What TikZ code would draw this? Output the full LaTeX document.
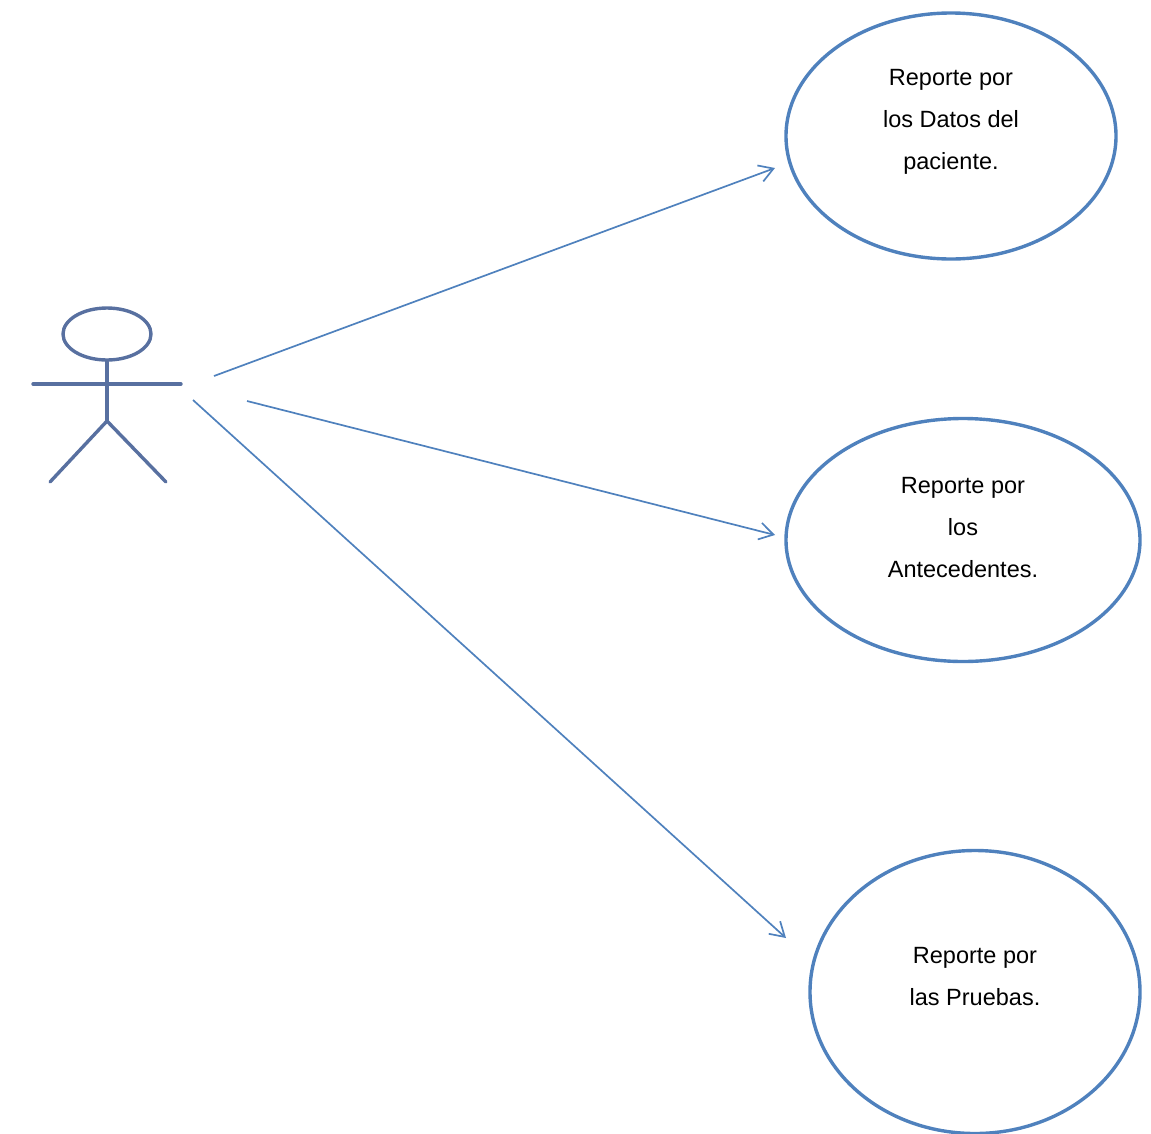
\documentclass[tikz,border=0pt]{standalone}
\usepackage{fontspec}
\setmainfont{Liberation Sans}
\usetikzlibrary{arrows.meta,shapes.geometric}
\definecolor{ub}{RGB}{79,129,189}
\definecolor{actor}{RGB}{88,112,160}
\begin{document}
\begin{tikzpicture}[x=1pt,y=-1pt,
 uc/.style={ellipse,draw=ub,line width=3.4pt,inner sep=0pt,minimum width=#1},
 lab/.style={font=\fontsize{23.5}{42}\selectfont,align=center,text=black,inner sep=0pt},
 link/.style={draw=ub,line width=1.7pt,-{Straight Barb[length=14pt,width=17pt,line width=1.7pt]}},
 stick/.style={draw=actor,line width=3.4pt,line cap=round}]
\useasboundingbox (0,0) rectangle (1151,1133);
\node[uc=330pt,minimum height=246pt] (e1) at (951,136) {};
\node[uc=354pt,minimum height=243pt] (e2) at (963,540) {};
\node[uc=330pt,minimum height=283pt] (e3) at (975,992) {};
\node[lab] (t1) at (951,122) {Reporte por\\los Datos del\\paciente.};
\node[lab] (t2) at (963,528) {Reporte por\\los\\Antecedentes.};
\node[lab] (t3) at (975,977) {Reporte por\\las Pruebas.};
\coordinate (a1) at (214,376);
\coordinate (a2) at (247,401);
\coordinate (a3) at (193,400);
\coordinate (h1) at (775,168);
\coordinate (h2) at (775,535);
\coordinate (h3) at (786,938);
\draw[link] (a1) -- (h1);
\draw[link] (a2) -- (h2);
\draw[link] (a3) -- (h3);
\node[ellipse,draw=actor,line width=3.4pt,minimum width=88pt,minimum height=52pt,inner sep=0pt] (head) at (107,334) {};
\coordinate (hip) at (107,421);
\coordinate (armL) at (33,384);
\coordinate (armR) at (181,384);
\coordinate (legL) at (50,482);
\coordinate (legR) at (166,482);
\draw[stick] (head.south) -- (hip);
\draw[stick] (armL) -- (armR);
\draw[stick] (legL) -- (hip) -- (legR);
\end{tikzpicture}
\end{document}
